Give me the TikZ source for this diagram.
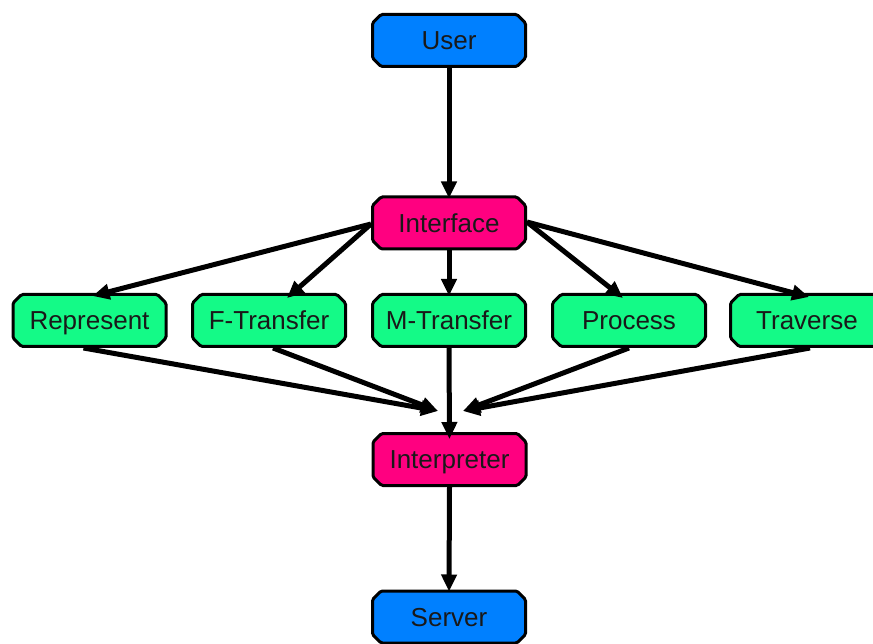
\documentclass[tikz,border=0pt]{standalone}
\usepackage{fontspec}
\setmainfont{Liberation Sans}
\usetikzlibrary{shapes.misc,arrows.meta}
\definecolor{cblue}{RGB}{0,128,255}
\definecolor{cpink}{RGB}{255,0,128}
\definecolor{cgreen}{RGB}{20,250,135}
\begin{document}
\begin{tikzpicture}[x=1pt,y=-1pt,
  box/.style={chamfered rectangle, chamfered rectangle xsep=5pt, draw=black, line width=3pt,
    rounded corners=1.5pt,
    minimum width=153pt, minimum height=52pt, inner sep=0pt, text=black!90,
    text height=18.5pt, text depth=0pt,
    font=\fontsize{26}{30}\selectfont},
  conn/.style={line width=5pt, -{Triangle[length=17pt,width=15pt]}}]
\useasboundingbox (0,0) rectangle (873,644);
\clip (0,0) rectangle (873,644);
\node[box, fill=cblue] (user) at (449,40.5) {User};
\node[box, fill=cpink] (iface) at (449,223) {Interface};
\node[box, fill=cgreen] (rep) at (89.5,320.5) {Represent};
\node[box, fill=cgreen] (ftr) at (269,320.5) {F-Transfer};
\node[box, fill=cgreen] (mtr) at (449,320.5) {M-Transfer};
\node[box, fill=cgreen] (proc) at (629,320.5) {Process};
\node[box, fill=cgreen] (trav) at (807,320.5) {Traverse};
\node[box, fill=cpink] (interp) at (449.5,459.5) {Interpreter};
\node[box, fill=cblue] (server) at (449,617) {Server};
\coordinate (cl) at (438,411);
\coordinate (cr) at (463,411);
\draw[conn] (user.south) -- ([yshift=-3pt]iface.north);
\draw[conn] ([yshift=-1pt]iface.west) -- ([xshift=3pt,yshift=-3pt]rep.north);
\draw[conn] ([yshift=-1pt]iface.west) -- ([xshift=18pt,yshift=-5pt]ftr.north);
\draw[conn] (iface.south) -- ([yshift=-3pt]mtr.north);
\draw[conn] ([yshift=1pt]iface.east) -- ([xshift=-6pt,yshift=-5pt]proc.north);
\draw[conn] ([yshift=1pt]iface.east) -- ([xshift=2pt,yshift=-4pt]trav.north);
\draw[conn] ([xshift=-6pt]rep.south) -- (cl);
\draw[conn] ([xshift=4pt]ftr.south) -- (cl);
\draw[conn] (mtr.south) -- ([yshift=-7pt]interp.north);
\draw[conn] (proc.south) -- (cr);
\draw[conn] ([xshift=3pt]trav.south) -- (cr);
\draw[conn] (interp.south) -- ([yshift=-2pt]server.north);
\end{tikzpicture}
\end{document}
